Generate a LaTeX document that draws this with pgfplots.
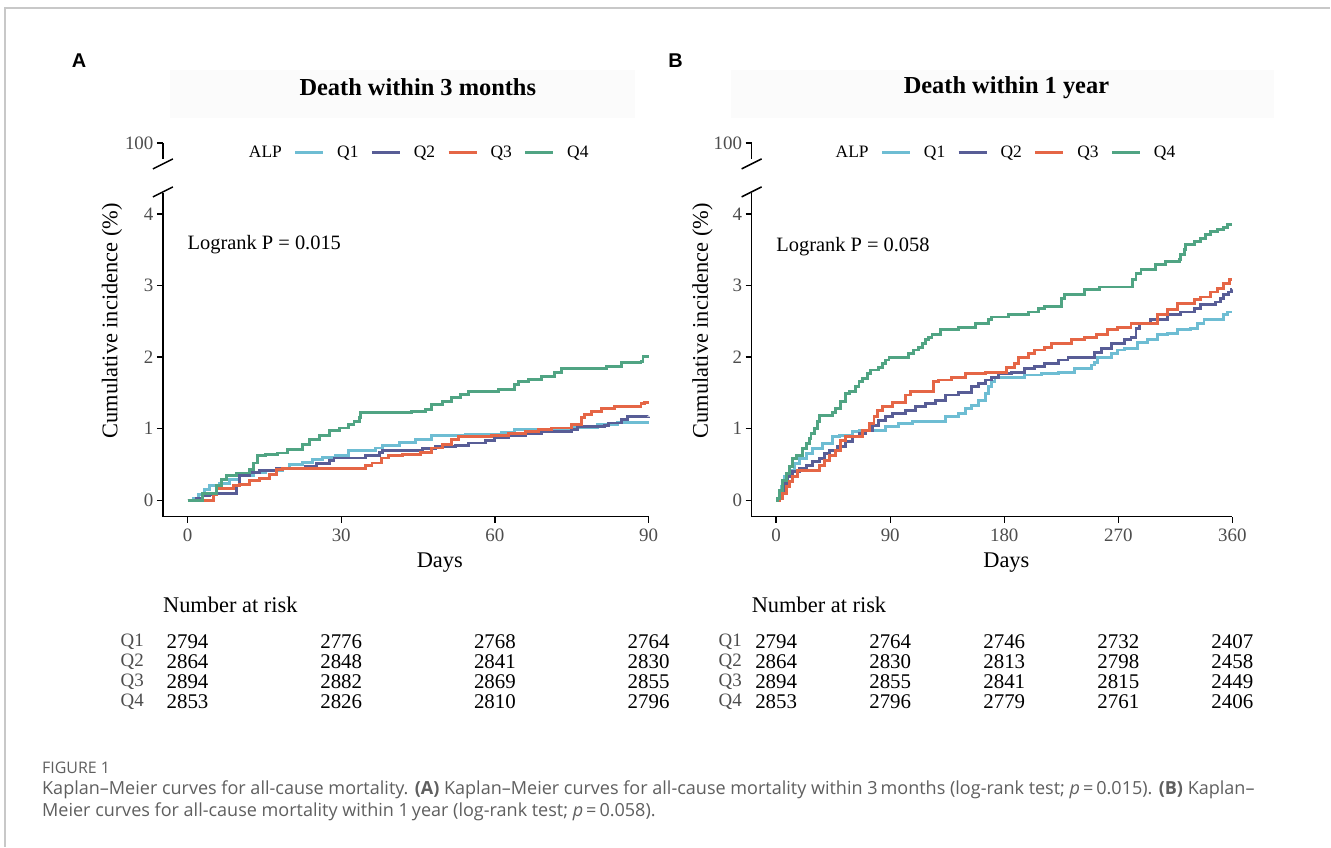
\documentclass[border=0pt]{standalone}
\usepackage{fontspec}
\setmainfont{Liberation Serif}
\newfontfamily\capfont{Open Sans}
\newfontfamily\panelfont{Liberation Sans}
\usepackage{pgfplots}
\pgfplotsset{compat=1.18}
\definecolor{cQ1}{RGB}{110,189,211}
\definecolor{cQ2}{RGB}{88,93,150}
\definecolor{cQ3}{RGB}{229,102,70}
\definecolor{cQ4}{RGB}{80,164,131}
\definecolor{tickgray}{RGB}{77,77,77}
\definecolor{capgray}{RGB}{95,95,95}
\definecolor{framegray}{RGB}{200,200,200}

\tikzset{
  rn/.style={font=\fontsize{21}{21}\selectfont, inner sep=0pt},
  rq/.style={font=\fontsize{19}{19}\selectfont, inner sep=0pt, text=tickgray},
  rh/.style={font=\fontsize{22.5}{22.5}\selectfont, inner sep=0pt, anchor=west},
}

\pgfplotsset{
  kmaxis/.style={
    scale only axis, clip=false,
    axis x line=bottom, axis y line=left,
    axis line style={-, line width=1.5bp, black},
    tick align=outside, major tick length=6bp,
    tick style={black, line width=1.4bp},
    ymin=-0.23, ymax=4.295, ytick={0,1,2,3,4},
    /pgf/number format/assume math mode=true,
    ticklabel style={font=\fontsize{19}{19}\selectfont, text=tickgray},
    xticklabel style={yshift=-3bp},
    label style={font=\fontsize{22.5}{22.5}\selectfont},
    legend style={draw=none, fill=none, font=\fontsize{17.5}{17.5}\selectfont,
      legend columns=5, inner sep=0pt, nodes={inner sep=0pt},
      /tikz/every odd column/.append style={column sep=12.5bp},
      /tikz/every even column/.append style={column sep=12bp}},
    legend image code/.code={\draw[#1] (0bp,0bp) -- (28bp,0bp);},
    every axis plot/.append style={line width=2.9bp, const plot},
  },
  topaxis/.style={
    scale only axis, axis y line=left, axis x line=none,
    axis line style={-, line width=1.5bp, black},
    tick align=outside, major tick length=6bp,
    tick style={black, line width=1.4bp},
    xmin=0, xmax=1, ymin=99.78, ymax=100, ytick={100}, scaled y ticks=false,
    /pgf/number format/assume math mode=true,
    yticklabel style={font=\fontsize{19}{19}\selectfont, text=tickgray},
    width=10bp, height=16bp,
  },
  riskaxis/.style={
    scale only axis, hide axis, clip=false,
    ymin=-720, ymax=-590,
  },
}

\begin{document}
\begin{tikzpicture}[x=1bp,y=1bp]
\path[fill=white] (0,0) rectangle (1331,847);
\draw[framegray, line width=1.5bp] (5,0) -- (5,839) -- (1331,839);

% title backgrounds
\fill[black!1.5] (170,729) rectangle (635,777);
\fill[black!1.5] (731,729) rectangle (1275,777);
\node[font=\fontsize{24.5}{24.5}\selectfont\bfseries] at (418,760) {Death within 3 months};
\node[font=\fontsize{24.5}{24.5}\selectfont\bfseries] at (1007,759) {Death within 1 year};
\node[font=\panelfont\fontsize{20}{20}\selectfont\bfseries] at (79,786) {A};
\node[font=\panelfont\fontsize{20}{20}\selectfont\bfseries] at (676,786) {B};

% ---------------- Panel A ----------------
\begin{axis}[kmaxis, at={(163bp,330bp)}, anchor=south west,
  width=486bp, height=324bp, xmin=-4.8, xmax=90, xtick={0,30,60,90},
  xlabel={Days}, ylabel={Cumulative incidence (\%)},
  xlabel style={at={(axis description cs:0.570,-0.142)}, anchor=center},
  ylabel style={at={(axis description cs:-0.105,0.605)}, anchor=center},
  legend style={at={(axis description cs:0.151,1.1235)}, anchor=west}]
\addlegendimage{empty legend}\addlegendentry{ALP}
\addplot[cQ1] coordinates {(0,0) (1.1,0.03) (2.1,0.08) (3.4,0.15) (4.3,0.20) (6.3,0.23) (8.2,0.29) (10.2,0.34) (12.8,0.38) (15.3,0.42) (18.6,0.45) (19.9,0.50) (22.5,0.53) (24.4,0.57) (26.4,0.60) (28.9,0.63) (31.5,0.69) (36.7,0.73) (38.0,0.77) (41.3,0.81) (44.5,0.85) (47.7,0.90) (54.2,0.92) (61.3,0.95) (63.9,0.99) (75.6,1.02) (80.0,1.06) (84.0,1.09) (90,1.09)};
\addlegendentry{Q1}
\addplot[cQ2] coordinates {(0,0) (1.7,0.03) (3.0,0.06) (4.3,0.08) (5.6,0.10) (9.5,0.20) (10.2,0.34) (12.1,0.39) (14.1,0.42) (17.3,0.44) (23.1,0.47) (25.1,0.51) (27.7,0.55) (28.6,0.59) (34.8,0.63) (37.4,0.67) (38.0,0.69) (45.8,0.72) (48.4,0.75) (52.3,0.77) (54.9,0.80) (58.1,0.83) (60.0,0.87) (62.6,0.90) (65.9,0.93) (69.1,0.96) (74.9,0.99) (76.2,1.03) (81.4,1.05) (82.1,1.08) (84.7,1.13) (85.9,1.165) (90,1.17)};
\addlegendentry{Q2}
\addplot[cQ3] coordinates {(0,0) (5.0,0.08) (5.6,0.17) (8.9,0.20) (10.2,0.22) (12.1,0.27) (14.1,0.31) (16.0,0.36) (17.3,0.43) (18.6,0.44) (34.8,0.48) (36.0,0.52) (37.9,0.59) (39.2,0.62) (41.9,0.64) (45.5,0.67) (47.7,0.73) (49.7,0.78) (51.6,0.85) (52.9,0.89) (59.4,0.91) (62.6,0.93) (65.9,0.965) (68.5,0.99) (71.0,1.01) (74.9,1.06) (76.9,1.15) (77.5,1.20) (78.8,1.245) (80.8,1.28) (83.4,1.31) (88.5,1.35) (89.2,1.37) (90,1.37)};
\addlegendentry{Q3}
\addplot[cQ4] coordinates {(0,0) (3.0,0.10) (5.6,0.20) (6.6,0.29) (7.6,0.34) (9.5,0.38) (12.1,0.43) (12.8,0.52) (13.7,0.62) (15.3,0.64) (17.6,0.66) (19.6,0.71) (22.5,0.78) (23.8,0.85) (25.7,0.90) (27.7,0.97) (29.6,1.01) (31.5,1.06) (32.5,1.10) (33.5,1.15) (33.8,1.22) (43.8,1.245) (46.4,1.27) (47.7,1.34) (49.7,1.38) (51.6,1.43) (53.2,1.48) (54.9,1.52) (60.7,1.55) (63.9,1.62) (64.6,1.66) (66.5,1.69) (69.1,1.73) (71.7,1.78) (73.0,1.84) (81.7,1.87) (84.7,1.92) (88.5,1.94) (88.9,2.01) (90,2.01)};
\addlegendentry{Q4}
\node[anchor=west, inner sep=0pt, font=\fontsize{20.5}{20.5}\selectfont] at (axis cs:0,3.57) {Logrank P = 0.015};
\end{axis}
\begin{axis}[topaxis, at={(163bp,688bp)}, anchor=south west]
\end{axis}
\draw[line width=1.5bp] (153,678) -- (173,688);
\draw[line width=1.5bp] (153,650) -- (173,660);

% risk table A
\begin{axis}[riskaxis, at={(163bp,127bp)}, anchor=south west, width=486bp, height=130bp, xmin=-4.8, xmax=90]
\node[rh] at (axis cs:-4.8,-605) {Number at risk};
\node[rq] at (axis cs:-10.8,-642) {Q1};
\node[rq] at (axis cs:-10.8,-662) {Q2};
\node[rq] at (axis cs:-10.8,-682) {Q3};
\node[rq] at (axis cs:-10.8,-702) {Q4};
\node[rn] at (axis cs:0,-642) {2794}; \node[rn] at (axis cs:30,-642) {2776}; \node[rn] at (axis cs:60,-642) {2768}; \node[rn] at (axis cs:90,-642) {2764};
\node[rn] at (axis cs:0,-662) {2864}; \node[rn] at (axis cs:30,-662) {2848}; \node[rn] at (axis cs:60,-662) {2841}; \node[rn] at (axis cs:90,-662) {2830};
\node[rn] at (axis cs:0,-682) {2894}; \node[rn] at (axis cs:30,-682) {2882}; \node[rn] at (axis cs:60,-682) {2869}; \node[rn] at (axis cs:90,-682) {2855};
\node[rn] at (axis cs:0,-702) {2853}; \node[rn] at (axis cs:30,-702) {2826}; \node[rn] at (axis cs:60,-702) {2810}; \node[rn] at (axis cs:90,-702) {2796};
\end{axis}

% ---------------- Panel B ----------------
\begin{axis}[kmaxis, at={(752bp,330bp)}, anchor=south west,
  width=481bp, height=324bp, xmin=-19.4, xmax=360, xtick={0,90,180,270,360},
  xlabel={Days}, ylabel={Cumulative incidence (\%)},
  xlabel style={at={(axis description cs:0.530,-0.142)}, anchor=center},
  ylabel style={at={(axis description cs:-0.102,0.605)}, anchor=center},
  legend style={at={(axis description cs:0.1485,1.1235)}, anchor=west}]
\addlegendimage{empty legend}\addlegendentry{ALP}
\addplot[cQ1] coordinates {(0,0) (1.3,0.02) (3.9,0.19) (6.5,0.33) (10.5,0.42) (14.4,0.51) (18.3,0.58) (23.6,0.65) (28.8,0.72) (36.6,0.79) (44.5,0.89) (49.7,0.91) (60.2,0.96) (65.4,0.98) (86.4,1.03) (96.8,1.07) (107.3,1.10) (133.5,1.17) (143.9,1.21) (149.2,1.28) (154.4,1.33) (159.6,1.40) (164.9,1.49) (167.5,1.59) (170.1,1.66) (172.7,1.72) (196.3,1.75) (209.4,1.77) (222.5,1.79) (235.5,1.84) (248.6,1.89) (251.2,1.93) (253.9,2.00) (264.3,2.05) (269.6,2.10) (274.8,2.12) (285.3,2.21) (293.1,2.24) (301.0,2.31) (308.8,2.33) (316.7,2.38) (327.1,2.40) (332.4,2.47) (337.6,2.52) (353.3,2.59) (355.9,2.63) (360,2.63)};
\addlegendentry{Q1}
\addplot[cQ2] coordinates {(0,0) (1.3,0.02) (3.9,0.14) (6.5,0.23) (9.2,0.33) (13.1,0.40) (18.3,0.44) (23.6,0.49) (28.8,0.54) (34.0,0.58) (37.9,0.65) (41.9,0.70) (48.4,0.75) (55.0,0.82) (60.2,0.89) (65.4,0.93) (70.7,0.98) (75.9,1.05) (81.1,1.12) (86.4,1.17) (91.6,1.21) (102.1,1.26) (109.9,1.31) (117.8,1.35) (125.6,1.40) (133.5,1.47) (143.9,1.50) (154.4,1.59) (159.6,1.63) (164.9,1.68) (170.1,1.72) (175.3,1.77) (185.8,1.79) (196.3,1.84) (204.1,1.87) (212.0,1.91) (222.5,1.96) (230.3,2.00) (251.2,2.07) (256.5,2.12) (264.3,2.19) (274.8,2.24) (280.0,2.28) (284.0,2.40) (286.6,2.47) (295.7,2.52) (308.8,2.59) (319.3,2.63) (329.8,2.68) (335.0,2.73) (346.8,2.77) (350.7,2.82) (353.3,2.87) (357.2,2.91) (359,2.95) (360,2.95)};
\addlegendentry{Q2}
\addplot[cQ3] coordinates {(0,0) (2.6,0.02) (5.2,0.09) (7.9,0.19) (10.5,0.26) (13.1,0.33) (17.0,0.42) (34.0,0.49) (38.0,0.56) (41.9,0.63) (47.1,0.70) (51.0,0.84) (55.0,0.89) (68.0,0.98) (73.3,1.07) (77.2,1.17) (79.8,1.26) (83.7,1.31) (91.6,1.36) (102.1,1.47) (106.0,1.52) (124.3,1.66) (128.2,1.68) (138.7,1.72) (149.2,1.77) (164.9,1.79) (181.9,1.86) (188.4,1.91) (191.0,2.00) (198.9,2.05) (204.1,2.10) (212.0,2.14) (217.2,2.19) (232.9,2.24) (243.4,2.28) (252.6,2.31) (261.7,2.38) (269.6,2.42) (280.0,2.47) (301.0,2.59) (308.8,2.66) (316.7,2.75) (329.8,2.80) (335.0,2.84) (342.8,2.91) (348.1,2.96) (353.3,3.03) (358.0,3.08) (360,3.08)};
\addlegendentry{Q3}
\addplot[cQ4] coordinates {(0,0) (1.3,0.02) (2.6,0.14) (5.2,0.28) (7.9,0.37) (10.5,0.47) (13.1,0.58) (15.7,0.63) (20.9,0.72) (23.6,0.79) (26.2,0.86) (27.5,0.93) (30.1,1.00) (32.7,1.10) (34.0,1.19) (44.5,1.22) (47.1,1.28) (51.0,1.38) (55.0,1.49) (57.6,1.52) (62.8,1.59) (65.4,1.66) (68.0,1.70) (72.0,1.77) (74.6,1.82) (81.1,1.86) (83.7,1.91) (86.4,1.96) (89.0,2.00) (104.7,2.05) (108.6,2.10) (112.5,2.14) (115.2,2.19) (117.8,2.24) (120.4,2.28) (123.0,2.31) (129.5,2.38) (143.9,2.42) (157.0,2.47) (167.5,2.52) (170.1,2.56) (183.2,2.59) (198.9,2.63) (206.8,2.68) (212.0,2.71) (225.1,2.82) (227.7,2.87) (243.4,2.94) (255.2,2.98) (281.3,3.08) (284.0,3.17) (287.9,3.22) (299.7,3.29) (307.5,3.33) (318.0,3.36) (319.3,3.43) (321.9,3.50) (323.2,3.57) (329.8,3.61) (335.0,3.66) (338.9,3.71) (342.8,3.75) (348.1,3.78) (353.3,3.81) (355.9,3.85) (360,3.85)};
\addlegendentry{Q4}
\node[anchor=west, inner sep=0pt, font=\fontsize{20.5}{20.5}\selectfont] at (axis cs:0,3.55) {Logrank P = 0.058};
\end{axis}
\begin{axis}[topaxis, at={(752bp,688bp)}, anchor=south west]
\end{axis}
\draw[line width=1.5bp] (742,678) -- (762,688);
\draw[line width=1.5bp] (742,650) -- (762,660);

% risk table B
\begin{axis}[riskaxis, at={(752bp,127bp)}, anchor=south west, width=481bp, height=130bp, xmin=-19.4, xmax=360]
\node[rh] at (axis cs:-19.4,-605) {Number at risk};
\node[rq] at (axis cs:-36.2,-642) {Q1};
\node[rq] at (axis cs:-36.2,-662) {Q2};
\node[rq] at (axis cs:-36.2,-682) {Q3};
\node[rq] at (axis cs:-36.2,-702) {Q4};
\node[rn] at (axis cs:0,-642) {2794}; \node[rn] at (axis cs:90,-642) {2764}; \node[rn] at (axis cs:180,-642) {2746}; \node[rn] at (axis cs:270,-642) {2732}; \node[rn] at (axis cs:360,-642) {2407};
\node[rn] at (axis cs:0,-662) {2864}; \node[rn] at (axis cs:90,-662) {2830}; \node[rn] at (axis cs:180,-662) {2813}; \node[rn] at (axis cs:270,-662) {2798}; \node[rn] at (axis cs:360,-662) {2458};
\node[rn] at (axis cs:0,-682) {2894}; \node[rn] at (axis cs:90,-682) {2855}; \node[rn] at (axis cs:180,-682) {2841}; \node[rn] at (axis cs:270,-682) {2815}; \node[rn] at (axis cs:360,-682) {2449};
\node[rn] at (axis cs:0,-702) {2853}; \node[rn] at (axis cs:90,-702) {2796}; \node[rn] at (axis cs:180,-702) {2779}; \node[rn] at (axis cs:270,-702) {2761}; \node[rn] at (axis cs:360,-702) {2406};
\end{axis}

% caption
\node[anchor=west, inner sep=0pt, text=capgray, font=\capfont\fontsize{16}{16}\selectfont] at (42,79) {FIGURE 1};
\node[anchor=west, inner sep=0pt, text=capgray, font=\capfont\fontsize{18.1}{18.1}\selectfont] at (42,57) {Kaplan–Meier curves for all-cause mortality. \textbf{(A)} Kaplan–Meier curves for all-cause mortality within 3\,months (log-rank test; \textit{p}\,=\,0.015). \textbf{(B)} Kaplan–};
\node[anchor=west, inner sep=0pt, text=capgray, font=\capfont\fontsize{18.1}{18.1}\selectfont] at (42,35) {Meier curves for all-cause mortality within 1\,year (log-rank test; \textit{p}\,=\,0.058).};
\end{tikzpicture}
\end{document}
